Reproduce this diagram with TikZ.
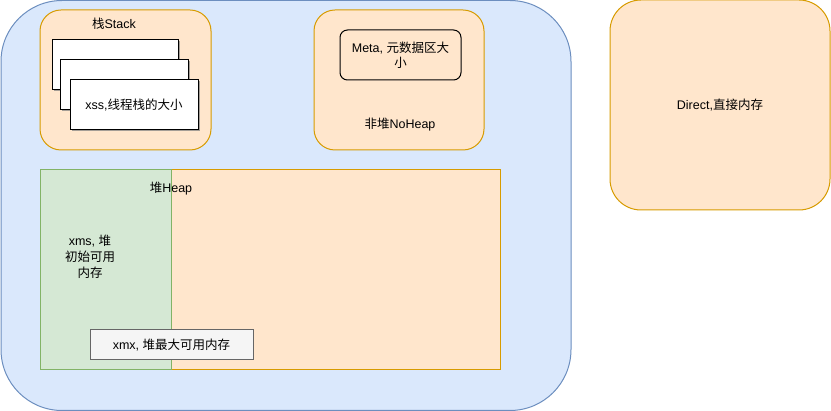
\documentclass[tikz,border=0pt]{standalone}
\usepackage{fontspec}
\setmainfont{Liberation Sans}
\newfontfamily\cjk{Noto Sans CJK SC}
\usetikzlibrary{shadows}

\definecolor{blueFill}{HTML}{DAE8FC}
\definecolor{blueLine}{HTML}{6C8EBF}
\definecolor{orangeFill}{HTML}{FFE6CC}
\definecolor{orangeLine}{HTML}{D79B00}
\definecolor{greenFill}{HTML}{D5E8D4}
\definecolor{greenLine}{HTML}{82B366}
\definecolor{greyFill}{HTML}{F5F5F5}
\definecolor{greyLine}{HTML}{666666}

\begin{document}
\begin{tikzpicture}[x=1pt, y=-1pt, line width=1pt,
    every node/.style={inner sep=0pt, font=\fontsize{12.5}{16}\selectfont},
    area/.style={draw=orangeLine, fill=orangeFill},
    page/.style={draw=black, fill=white, minimum height=50pt,
        drop shadow={shadow xshift=1.5pt, shadow yshift=-1.5pt, fill=black!50, opacity=.7}},
    txt/.style={align=center}]
    \useasboundingbox (0,0) rectangle (831,411);
    \node[draw=blueLine, fill=blueFill, rounded corners=61pt,
        minimum width=570pt, minimum height=410pt] (jvm) at (286,205.5) {};
    \node[area, rounded corners=21pt, minimum width=171pt, minimum height=140pt] (stack) at (125.5,80) {};
    \node[txt] (stackTitle) at (114,24) {{\cjk 栈}Stack};
    \foreach \i/\px/\py/\w in {1/115.5/65/126, 2/124/85/128, 3/134/105/128} {
        \node[page, minimum width=\w pt] (page\i) at (\px,\py) {};
    }
    \node[txt] (xss) at (page3) {xss,{\cjk 线程栈的大小}};
    \node[area, rounded corners=21pt, minimum width=170pt, minimum height=140pt] (noheap) at (399,80) {};
    \node[draw=black, rounded corners=7.5pt, minimum width=121pt, minimum height=50pt,
        txt, font=\fontsize{12.5}{15}\selectfont] (meta) at (400.5,55) {Meta, {\cjk 元数据区大}\\{\cjk 小}};
    \node[txt] (noheapTitle) at (400,125) {{\cjk 非堆}NoHeap};
    \node[area, minimum width=460pt, minimum height=200pt] (heap) at (270,270) {};
    \node[draw=greenLine, fill=greenFill, minimum width=131pt, minimum height=200pt] (xms) at (105.5,270) {};
    \node[txt] (heapTitle) at (171,189) {{\cjk 堆}Heap};
    \node[txt] (xmsText) at (90,257) {xms, {\cjk 堆}\\{\cjk 初始可用}\\{\cjk 内存}};
    \node[draw=greyLine, fill=greyFill, minimum width=163pt, minimum height=30pt,
        txt] (xmx) at (171.5,345) {xmx, {\cjk 堆最大可用内存}};
    \node[area, rounded corners=31pt, minimum width=220pt, minimum height=210pt,
        txt] (direct) at (720,105) {Direct,{\cjk 直接内存}};
\end{tikzpicture}
\end{document}
